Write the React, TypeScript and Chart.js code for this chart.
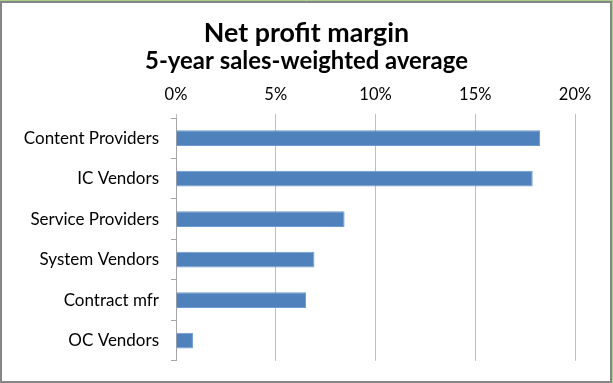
import React, { useEffect, useRef } from "react";
import { Chart, registerables } from "chart.js";

Chart.register(...registerables);

const categories = [
  "Content Providers",
  "IC Vendors",
  "Service Providers",
  "System Vendors",
  "Contract mfr",
  "OC Vendors",
];
const margins = [18.25, 17.88, 8.45, 6.94, 6.52, 0.85];
const tickMin = 0;
const tickMax = 20;
const tickStep = 5;
const titleText = "Net profit margin";
const subtitleText = "5-year sales-weighted average";

const FONT = "Lato, 'Open Sans', sans-serif";

const frame = {
  id: "frame",
  afterDraw(chart: any) {
    const { ctx, width, height } = chart;
    ctx.save();
    ctx.strokeStyle = "#a8d08d";
    ctx.lineWidth = 1;
    ctx.beginPath();
    ctx.moveTo(0, 0.5);
    ctx.lineTo(width, 0.5);
    ctx.moveTo(width - 0.5, 0);
    ctx.lineTo(width - 0.5, height);
    ctx.stroke();
    ctx.strokeStyle = "#868686";
    ctx.lineWidth = 2;
    ctx.strokeRect(1, 2, width - 3, height - 3);
    ctx.restore();
  },
};

export default function App() {
  const ref = useRef<HTMLCanvasElement>(null);
  useEffect(() => {
    document.body.style.margin = "0";
    const chart = new Chart(ref.current!, {
      type: "bar",
      data: {
        labels: categories,
        datasets: [
          {
            data: margins,
            backgroundColor: "#4f81bd",
            borderColor: "#6d9ad0",
            borderWidth: 1,
            barPercentage: 0.39,
            categoryPercentage: 1,
          },
        ],
      },
      options: {
        indexAxis: "y",
        animation: false,
        responsive: false,
        maintainAspectRatio: false,
        layout: { padding: { left: 0, right: 0, top: 0, bottom: 21 } },
        plugins: {
          legend: { display: false },
          tooltip: { enabled: false },
          title: {
            display: true,
            text: titleText,
            color: "#000",
            font: { family: FONT, size: 26.8, weight: "bold", lineHeight: 1.1 },
            padding: { top: 18.8, bottom: 0 },
          },
          subtitle: {
            display: true,
            text: subtitleText,
            color: "#000",
            font: { family: FONT, size: 23.9, weight: "bold", lineHeight: 1.1 },
            padding: { top: 0, bottom: 4 },
          },
        },
        scales: {
          x: {
            position: "top",
            min: tickMin,
            max: tickMax,
            ticks: {
              stepSize: tickStep,
              color: "#000",
              font: { family: FONT, size: 16.5 },
              padding: 9,
              callback: (v: any) => v + "%",
            },
            grid: {
              color: "#bfbfbf",
              lineWidth: 1,
              tickLength: 4,
            },
            border: { display: false },
            afterFit: (s: any) => {
              s.height = 118 - (18.8 + 26.8 * 1.1 + 23.9 * 1.1 + 4);
            },
          },
          y: {
            ticks: {
              color: "#000",
              font: { family: FONT, size: 17 },
              padding: 12,
            },
            grid: {
              offset: true,
              drawOnChartArea: false,
              color: "#a6a6a6",
              tickLength: 5,
            },
            border: { display: true, color: "#a6a6a6" },
            afterFit: (s: any) => {
              s.width = 176;
            },
          },
          pad: {
            axis: "y",
            type: "linear",
            position: "right",
            display: true,
            ticks: { display: false },
            grid: { display: false },
            border: { display: false },
            afterFit: (s: any) => {
              s.width = 38;
            },
          },
        },
      },
      plugins: [frame],
    });
    return () => chart.destroy();
  }, []);
  return (
    <div style={{ width: 613, height: 383, position: "relative", background: "#fff" }}>
      <canvas ref={ref} width={613} height={383} style={{ display: "block" }} />
    </div>
  );
}
